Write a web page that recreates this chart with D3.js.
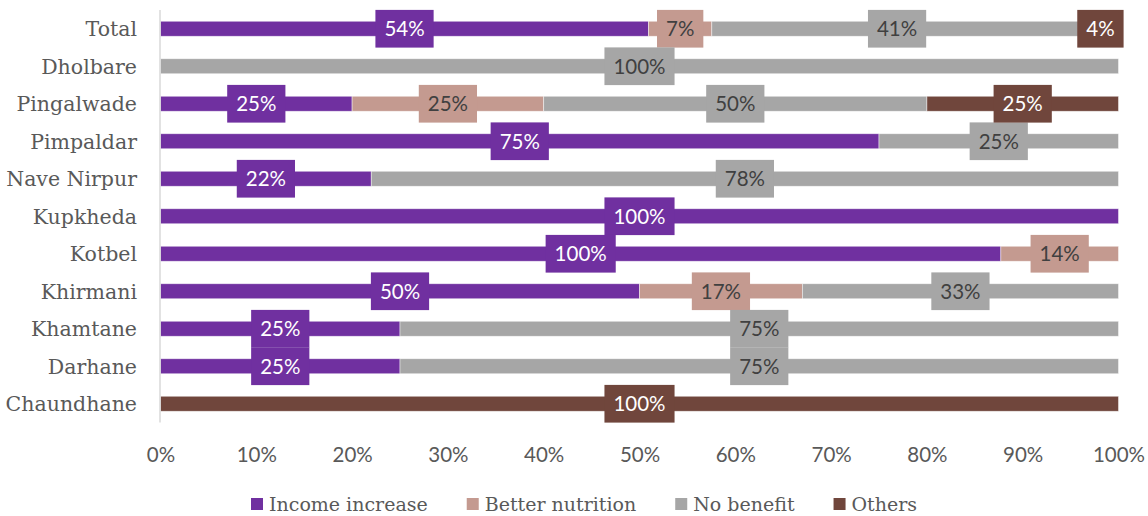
<!DOCTYPE html>
<html>
<head>
<meta charset="utf-8">
<script src="https://cdn.jsdelivr.net/npm/d3@7"></script>
<style>
  html, body { margin: 0; padding: 0; background: #fff; }
  svg { display: block; }
</style>
</head>
<body>
<svg id="chart" width="1148" height="516"></svg>
<script>
const categories = ["Total","Dholbare","Pingalwade","Pimpaldar","Nave Nirpur","Kupkheda","Kotbel","Khirmani","Khamtane","Darhane","Chaundhane"];
const seriesNames = ["Income increase","Better nutrition","No benefit","Others"];
const incomeIncrease  = [54, 0, 25, 75, 22, 100, 100, 50, 25, 25, 0];
const betterNutrition = [7,  0, 25, 0,  0,  0,   14,  17, 0,  0,  0];
const noBenefit       = [41, 100, 50, 25, 78, 0,  0,   33, 75, 75, 0];
const others          = [4,  0, 25, 0,  0,  0,   0,   0,  0,  0,  100];
const tickValues = [0,0.1,0.2,0.3,0.4,0.5,0.6,0.7,0.8,0.9,1.0];
const colors = ["#7030A0","#C49A90","#A6A6A6","#70463C"];
const labelColors = ["#FFFFFF","#404040","#404040","#FFFFFF"];

const seriesValues = [incomeIncrease, betterNutrition, noBenefit, others];
const rows = categories.map((c, i) => {
  const r = { category: c };
  seriesNames.forEach((s, j) => r[s] = seriesValues[j][i]);
  return r;
});

const stack = d3.stack().keys(seriesNames).offset(d3.stackOffsetExpand);
const stacked = stack(rows);

const svg = d3.select("#chart");
const x = d3.scaleLinear().domain([0, 1]).range([160.5, 1118.5]);
const y = d3.scaleBand().domain(categories).range([10, 422.5]).paddingInner(0.6).paddingOuter(0.3);

const serifFont = "'DejaVu Serif', serif";
const sansFont = "Lato, 'Open Sans', sans-serif";

// bars
const g = svg.append("g");
stacked.forEach((layer, j) => {
  g.selectAll(null).data(layer).enter().append("rect")
    .attr("x", d => x(d[0]))
    .attr("y", d => y(d.data.category))
    .attr("width", d => Math.max(0, x(d[1]) - x(d[0])))
    .attr("height", y.bandwidth())
    .attr("fill", colors[j])
    .attr("stroke", "#ffffff")
    .attr("stroke-opacity", d => (d[1] - d[0]) > 0 ? 0.6 : 0)
    .attr("stroke-width", 0.75);
});

// vertical axis line
svg.append("line")
  .attr("x1", 160).attr("x2", 160)
  .attr("y1", 10).attr("y2", 422.5)
  .attr("stroke", "#D9D9D9").attr("stroke-width", 1.5);

// category labels
svg.append("g").selectAll("text").data(categories).enter().append("text")
  .attr("x", 137)
  .attr("y", d => y(d) + y.bandwidth() / 2)
  .attr("dy", "0.36em")
  .attr("text-anchor", "end")
  .attr("font-family", serifFont)
  .attr("font-size", 20.5)
  .attr("fill", "#595959")
  .text(d => d);

// data labels
const lg = svg.append("g");
stacked.forEach((layer, j) => {
  layer.forEach((d, i) => {
    const v = seriesValues[j][i];
    if (!v) return;
    const cx = (x(d[0]) + x(d[1])) / 2;
    const cy = y(d.data.category) + y.bandwidth() / 2;
    const grp = lg.append("g");
    const rect = grp.append("rect").attr("fill", colors[j]);
    const t = grp.append("text")
      .attr("x", cx).attr("y", cy)
      .attr("dy", "0.36em")
      .attr("text-anchor", "middle")
      .attr("font-family", sansFont)
      .attr("font-size", 20.5)
      .attr("fill", labelColors[j])
      .text(v + "%");
    const w = t.node().getComputedTextLength() + 18;
    const h = 37.7;
    rect.attr("x", cx - w / 2).attr("y", cy - h / 2).attr("width", w).attr("height", h);
  });
});

// x axis ticks
const xAxis = d3.axisBottom(x).tickValues(tickValues).tickSize(0).tickPadding(0).tickFormat(d3.format(".0%"));
const ax = svg.append("g").attr("transform", "translate(0,447)").call(xAxis);
ax.select(".domain").remove();
ax.selectAll("text")
  .attr("font-family", sansFont)
  .attr("font-size", 20.5)
  .attr("fill", "#595959")
  .attr("dy", "0.72em");

// legend
const leg = svg.append("g");
let lx = 251;
const ly = 504;
seriesNames.forEach((s, j) => {
  leg.append("rect")
    .attr("x", lx).attr("y", ly - 6).attr("width", 12).attr("height", 12)
    .attr("fill", colors[j]);
  const t = leg.append("text")
    .attr("x", lx + 18).attr("y", ly)
    .attr("dy", "0.36em")
    .attr("font-family", serifFont)
    .attr("font-size", 19)
    .attr("fill", "#595959")
    .text(s);
  lx = lx + 18 + t.node().getComputedTextLength() + 39;
});
</script>
</body>
</html>
